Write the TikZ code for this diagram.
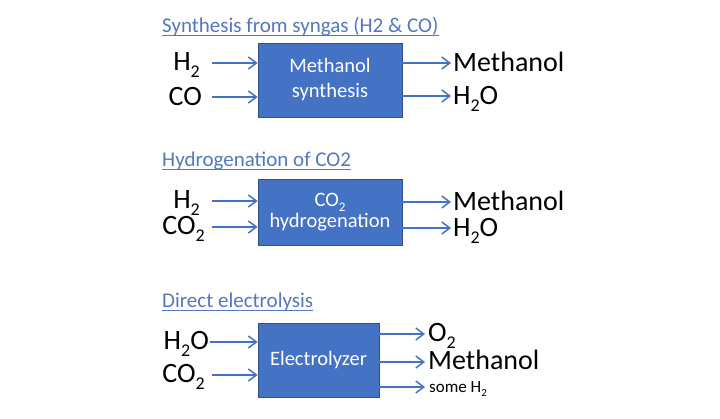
\documentclass[tikz,border=0pt]{standalone}
\usepackage{fontspec}
\setmainfont{Carlito}
\usetikzlibrary{arrows.meta}
\definecolor{arrblue}{RGB}{68,114,196}
\definecolor{boxblue}{RGB}{68,114,196}
\definecolor{boxedge}{RGB}{47,82,143}
\definecolor{titleblue}{RGB}{84,120,190}
\newcommand{\lowsub}[1]{\raisebox{-0.24em}{\scalebox{0.64}{#1}}}
\tikzset{
  flow/.style={draw=arrblue, line width=1.5pt, -{Straight Barb[length=8pt,width=12pt,line width=1.5pt]}},
  procbox/.style={draw=boxedge, line width=0.8pt, fill=boxblue, text=white, align=center, inner sep=0pt},
  biglabel/.style={font=\fontsize{28}{30}\selectfont, inner sep=0pt},
  smalllabel/.style={font=\fontsize{17}{19}\selectfont, inner sep=0pt},
  titletext/.style={font=\fontsize{21}{24}\selectfont, text=titleblue, inner sep=0pt, anchor=base west},
  uline/.style={draw=titleblue, line width=0.9pt},
}
\begin{document}
\begin{tikzpicture}[x=1pt,y=-1pt]
\useasboundingbox[fill=white] (0,0) rectangle (720,419);

% ---------- Panel 1 ----------
\node[titletext] (t1) at (162,33) {Synthesis from syngas (H2 \& CO)};
\draw[uline] ([yshift=-2.5pt]t1.base west) -- ([yshift=-2.5pt]t1.base east);
\node[procbox, minimum width=144pt, minimum height=74pt,
      font=\fontsize{20.5}{25}\selectfont] (b1) at (330,80) {Methanol\\synthesis};
\node[biglabel, anchor=base east] (i1a) at (200,71) {H\lowsub{2}};
\node[biglabel, anchor=base east] (i1b) at (202,106) {CO};
\coordinate (s1a) at (212,63);
\coordinate (s1b) at (212,97);
\draw[flow] (s1a) -- (s1a -| b1.west);
\draw[flow] (s1b) -- (s1b -| b1.west);
\coordinate (e1a) at (451,63);
\coordinate (e1b) at (451,96);
\draw[flow] (e1a -| b1.east) -- (e1a);
\draw[flow] (e1b -| b1.east) -- (e1b);
\node[biglabel, anchor=base west] (o1a) at (453,72) {Methanol};
\node[biglabel, anchor=base west] (o1b) at (453,105) {H\lowsub{2}O};

% ---------- Panel 2 ----------
\node[titletext] (t2) at (162,167) {Hydrogenation of CO2};
\draw[uline] ([yshift=-2.5pt]t2.base west) -- ([yshift=-2.5pt]t2.base east);
\node[procbox, minimum width=144pt, minimum height=66pt,
      font=\fontsize{20.5}{21}\selectfont] (b2) at (330,212) {CO\lowsub{2}\\hydrogenation};
\node[biglabel, anchor=base east] (i2a) at (200,209) {H\lowsub{2}};
\node[biglabel, anchor=base east] (i2b) at (205,235) {CO\lowsub{2}};
\coordinate (s2a) at (212,201);
\coordinate (s2b) at (212,227);
\draw[flow] (s2a) -- (s2a -| b2.west);
\draw[flow] (s2b) -- (s2b -| b2.west);
\coordinate (e2a) at (451,202);
\coordinate (e2b) at (451,228);
\draw[flow] (e2a -| b2.east) -- (e2a);
\draw[flow] (e2b -| b2.east) -- (e2b);
\node[biglabel, anchor=base west] (o2a) at (453,211) {Methanol};
\node[biglabel, anchor=base west] (o2b) at (453,237) {H\lowsub{2}O};

% ---------- Panel 3 ----------
\node[titletext] (t3) at (162,307.5) {Direct electrolysis};
\draw[uline] ([yshift=-2.5pt]t3.base west) -- ([yshift=-2.5pt]t3.base east);
\node[procbox, minimum width=121pt, minimum height=74pt,
      font=\fontsize{20.5}{25}\selectfont] (b3) at (318.5,360) {Electrolyzer};
\node[biglabel, anchor=base east] (i3a) at (209,350) {H\lowsub{2}O};
\node[biglabel, anchor=base east] (i3b) at (205,383) {CO\lowsub{2}};
\coordinate (s3a) at (210,342);
\coordinate (s3b) at (212,375);
\draw[flow] (s3a) -- (s3a -| b3.west);
\draw[flow] (s3b) -- (s3b -| b3.west);
\coordinate (e3a) at (425,334);
\coordinate (e3b) at (425,362);
\coordinate (e3c) at (425,387);
\draw[flow] (e3a -| b3.east) -- (e3a);
\draw[flow] (e3b -| b3.east) -- (e3b);
\draw[flow] (e3c -| b3.east) -- (e3c);
\node[biglabel, anchor=base west] (o3a) at (428,342) {O\lowsub{2}};
\node[biglabel, anchor=base west] (o3b) at (428,370) {Methanol};
\node[smalllabel, anchor=base west] (o3c) at (429,392) {some H\lowsub{2}};
\end{tikzpicture}
\end{document}
